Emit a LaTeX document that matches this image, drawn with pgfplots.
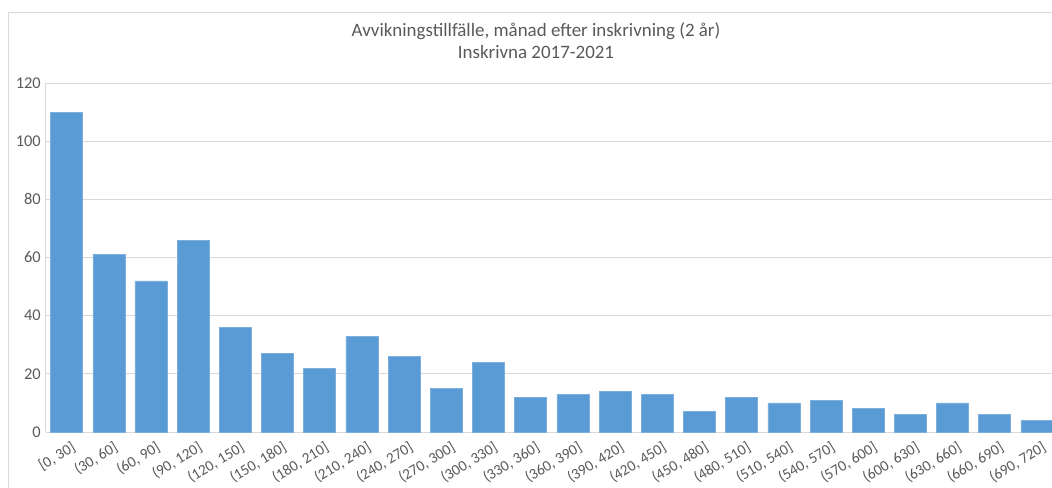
\documentclass[border=0pt]{standalone}
\usepackage{pgfplots}
\pgfplotsset{compat=1.18}
\usepackage{fontspec}
\setmainfont{Carlito}
\definecolor{barblue}{HTML}{5B9BD5}
\definecolor{gridgray}{HTML}{D9D9D9}
\definecolor{txtgray}{HTML}{595959}
\begin{document}
\begin{tikzpicture}
\useasboundingbox (0,0) rectangle (789pt,365.25pt);
\clip (0,0) rectangle (789pt,365.25pt);
\draw[gridgray, line width=0.75pt] (6pt,-6pt) rectangle (795pt,356.25pt);
\node[txtgray, align=center, font=\fontsize{14.2pt}{16.5pt}\selectfont] at (402pt,334.5pt)
  {Avvikningstillfälle, månad efter inskrivning (2 år)\\Inskrivna 2017-2021};
\begin{axis}[
  at={(34.125pt,41.25pt)}, anchor=south west,
  scale only axis, width=759.4pt, height=261.75pt,
  xmin=-0.5, xmax=23.5, ymin=0, ymax=120,
  ytick={0,20,...,120},
  xtick=data,
  xticklabels={{[0, 30]},{(30, 60]},{(60, 90]},{(90, 120]},{(120, 150]},{(150, 180]},{(180, 210]},{(210, 240]},{(240, 270]},{(270, 300]},{(300, 330]},{(330, 360]},{(360, 390]},{(390, 420]},{(420, 450]},{(450, 480]},{(480, 510]},{(510, 540]},{(540, 570]},{(570, 600]},{(600, 630]},{(630, 660]},{(660, 690]},{(690, 720]}},
  x tick label style={rotate=31, anchor=north east, font=\fontsize{11.4pt}{13pt}\selectfont, text=txtgray, xshift=0.5pt, yshift=-6pt, inner sep=1pt},
  y tick label style={font=\fontsize{12.3pt}{14pt}\selectfont, text=txtgray},
  /pgf/number format/assume math mode=true,
  ymajorgrids, grid style={gridgray, line width=0.75pt},
  axis line style={gridgray, line width=0.75pt},
  axis x line*=bottom, axis y line*=left,
  major tick length=0pt,
  ybar, bar width=24pt, bar shift=0pt,
  clip=false,
]
\addplot[fill=barblue, draw=barblue!80!white] coordinates {
(0,110) (1,61) (2,52) (3,66) (4,36) (5,27) (6,22) (7,33) (8,26) (9,15) (10,24) (11,12)
(12,13) (13,14) (14,13) (15,7) (16,12) (17,10) (18,11) (19,8) (20,6) (21,10) (22,6) (23,4)};
\end{axis}
\end{tikzpicture}
\end{document}
